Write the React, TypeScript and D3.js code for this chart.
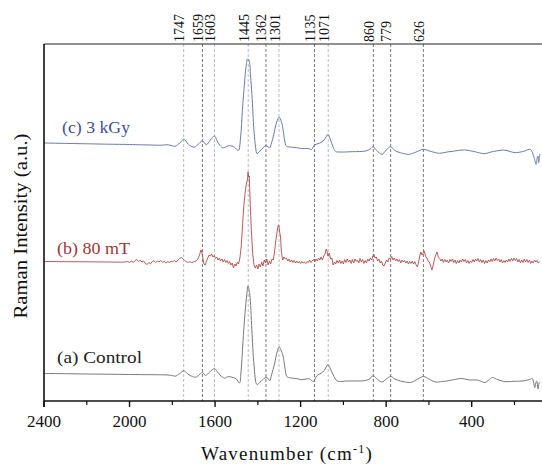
import React from "react";
import * as d3 from "d3";

// Peak positions (cm-1) marked with dashed guide lines
const peakLabels = [1747, 1659, 1603, 1445, 1362, 1301, 1135, 1071, 860, 779, 626];
const darkPeaks = [1659, 1362, 1135, 860, 779, 626];

// Axis ticks
const majorTicks = [2400, 2000, 1600, 1200, 800, 400];
const minorTicks = [2200, 1800, 1400, 1000, 600, 200];

// Series labels
const labelC = "(c) 3 kGy";
const labelB = "(b) 80 mT";
const labelA = "(a) Control";

// (a) Control spectrum: [wavenumber, intensity a.u.]
const seriesA: [number, number][] = [
  [2400, 1.5], [2300, 1.3], [2200, 1.0], [2100, 0.8], [2000, 0.5], [1900, 0.3], [1850, 0.2], [1820, 0],
  [1800, -0.5], [1787, -1.2], [1765, 1.5], [1746, 4.2], [1730, 1.5], [1712, -1], [1690, -2.2], [1675, 0],
  [1659, 2.6], [1645, -0.5], [1625, 3], [1603, 6.4], [1590, 3.5], [1577, 0], [1555, -3.2], [1540, -1.6],
  [1525, -2], [1502, -3.8], [1486, -8], [1478, 5], [1470, 32], [1460, 62], [1452, 80], [1446, 89],
  [1438, 81], [1428, 45], [1418, 10], [1404, -9.6], [1390, -7], [1382, -5.8], [1372, -3.5], [1362, -2.6],
  [1352, -3.5], [1344, -5.8], [1336, 0], [1322, 11], [1310, 23], [1300, 28], [1290, 24], [1282, 19],
  [1274, 8], [1264, -1.6], [1250, -2.8], [1238, -3.2], [1215, -3.8], [1194, -4.8], [1175, -4], [1160, -3.8],
  [1140, -6.4], [1128, -2], [1120, 0], [1105, 1.6], [1090, 4.5], [1072, 10.3], [1060, 6], [1044, -1.6],
  [1030, -5.8], [1010, -6.5], [990, -6], [950, -6], [896, -5.5], [875, -3.5], [861, -0.5], [845, -3.5],
  [819, -7], [800, -4], [778, -1.5], [760, -4], [733, -6], [710, -7], [686, -7.5], [660, -5],
  [626, -1.5], [600, -4], [569, -7], [540, -6.5], [516, -6], [480, -4.5], [445, -3.5], [410, -5],
  [374, -5], [355, -6.5], [338, -7.5], [320, -5], [303, -2.5], [285, -4], [250, -6.5], [200, -6.3],
  [161, -6], [130, -4.5], [117, -3.5], [111, -7], [105, -12.5], [100, -8], [96, -6], [92, -11],
  [89, -14], [85, -8], [80, -7],
];

// (b) 80 mT spectrum
const seriesB: [number, number][] = [
  [2400, 0.5], [2300, 0.3], [2200, 0.2], [2100, 0], [2030, -0.2], [2010, 0.5], [2000, -0.3], [1990, 0.8],
  [1982, -0.5], [1974, 1.5], [1966, 2.5], [1958, 0.5], [1950, 1.8], [1942, 0], [1934, 1], [1926, -1.5],
  [1918, -2.5], [1910, -0.5], [1902, -1.8], [1894, 0.5], [1886, 1.2], [1878, -0.5], [1870, 0.8], [1862, 0.2],
  [1854, 1.5], [1846, -0.3], [1838, 0.6], [1830, -1], [1822, 0.2], [1814, -0.5], [1806, 0.8], [1798, 0.2],
  [1790, 1.5], [1782, 0], [1774, 2], [1766, 3.5], [1758, 4.5], [1750, 3.2], [1742, 1.5], [1734, 0.2],
  [1726, -0.3], [1718, 0.2], [1710, -0.5], [1702, 0], [1694, 0.5], [1686, 1.5], [1678, 4], [1670, 9],
  [1666, 12], [1662, 10], [1658, 5], [1652, -2], [1646, -3], [1640, 1], [1634, 4], [1628, 7],
  [1622, 6], [1616, 8], [1610, 5], [1604, 6.5], [1598, 3.5], [1592, 5], [1586, 2], [1580, 4],
  [1574, 1], [1568, 3], [1562, 0], [1556, 2.5], [1550, -0.5], [1544, 1.5], [1538, -1.5], [1532, 0.5],
  [1526, -3], [1520, -1], [1514, -6], [1508, -2], [1502, -4], [1496, 0], [1490, -2], [1484, 4],
  [1478, 15], [1472, 35], [1466, 55], [1460, 68], [1456, 75], [1452, 80], [1448, 82], [1446, 90],
  [1443, 85], [1440, 86], [1436, 60], [1430, 30], [1424, 8], [1418, -3], [1412, -6], [1406, -3],
  [1400, -7], [1394, -2], [1388, -5], [1382, 0], [1376, -4], [1370, 2], [1364, -1], [1358, 3],
  [1352, -3], [1346, 1], [1340, -2], [1334, 3], [1328, 2], [1322, 10], [1316, 22], [1310, 30],
  [1306, 36], [1302, 37], [1298, 30], [1294, 25], [1290, 10], [1284, 2], [1278, 5], [1272, 3],
  [1266, 4], [1260, 1], [1254, 3], [1248, 0], [1242, 2], [1236, -0.5], [1230, 1.5], [1224, -1],
  [1218, 1], [1212, -1], [1206, 0.5], [1200, -1.5], [1194, 0.5], [1188, -1], [1182, 0], [1176, -1.5],
  [1170, 0.5], [1164, -0.5], [1158, 2], [1152, -0.5], [1146, 1], [1140, 2.5], [1134, 0], [1128, 3],
  [1122, 1], [1116, 4], [1110, 2], [1104, 5], [1098, 2], [1092, 6], [1086, 8], [1080, 13],
  [1076, 10], [1072, 6], [1066, 9], [1060, 3], [1054, 4], [1048, -3], [1042, 0], [1036, -2],
  [1030, 1.5], [1024, -1], [1018, 2], [1012, -1.5], [1006, 1], [1000, -2], [994, 2.5], [988, -0.5],
  [982, 3], [976, 0], [970, 2], [964, -1.5], [958, 2.5], [952, -1], [946, 3], [940, 0.5],
  [934, 2], [928, -1], [922, 3.5], [916, 0], [910, 2.5], [904, -1.5], [898, 1.5], [892, -1],
  [886, 3], [880, 1], [874, 4], [868, 2], [862, 6], [857, 7.5], [852, 4], [846, 5],
  [840, 1], [834, 3], [828, -1], [822, 1], [816, -3], [810, -4], [804, -1], [798, 2],
  [792, 0], [786, 4], [780, 3], [774, 5.5], [768, 2], [762, 4], [756, 1], [750, 3],
  [744, 0.5], [738, 2.5], [732, -1], [726, 2], [720, 0], [714, 1.5], [708, -1], [702, 1],
  [696, -2], [690, 0.5], [684, -1.5], [678, 1], [672, -2], [666, 0.5], [660, -3], [654, -5],
  [648, 0], [643, 6], [638, 10], [632, 7], [627, 9], [622, 11], [616, 6], [610, 4],
  [604, 1], [598, 0], [592, -4], [586, -8], [580, -3], [574, 3], [568, 7], [562, 10],
  [556, 5], [550, 3.5], [544, 1], [538, 3], [532, -0.5], [526, 2.5], [520, 0], [514, 2],
  [508, -1], [502, 2.5], [496, 0.5], [490, 3], [484, -0.5], [478, 2], [472, -1.5], [466, 1.5],
  [460, -1], [454, 2], [448, 0], [442, 3], [436, 0.5], [430, 2.5], [424, -1], [418, 1.5],
  [412, -1.5], [406, 1], [400, -0.5], [394, 2.5], [388, 0], [382, 3], [376, 1], [370, 3.5],
  [364, 0], [358, 2.5], [352, -0.5], [346, 2], [340, -1.5], [334, 1.5], [328, -1], [322, 2],
  [316, 0], [310, 3], [304, 0.5], [298, 3.5], [292, 1], [286, 4], [280, 1.5], [274, 3],
  [268, 0], [262, 2.5], [256, -1], [250, 1.5], [244, -0.5], [238, 2], [232, 0], [226, 3],
  [220, 0.5], [214, 3.5], [208, 1], [202, 4], [196, 1.5], [190, 3.5], [184, 0], [178, 2.5],
  [172, -1], [166, 2], [160, -0.5], [154, 3], [148, 0], [142, 2.5], [136, -0.5], [130, 2],
  [124, -1.5], [118, 1], [112, -1], [106, 2], [100, 0], [94, 1.5], [88, -1], [82, 0.5],
];

// (c) 3 kGy spectrum
const seriesC: [number, number][] = [
  [2400, 3], [2300, 2.6], [2200, 2.2], [2100, 1.8], [2000, 1.5], [1950, 1.2], [1900, 1.0], [1850, 0.8],
  [1824, 1.3], [1800, 0.2], [1787, -0.3], [1765, 3], [1746, 6.8], [1730, 3], [1719, 0.7], [1697, -1.3],
  [1680, 1.5], [1659, 5.2], [1641, 1.3], [1622, 6], [1603, 10], [1590, 5], [1577, 0.5], [1562, -1.9],
  [1545, -0.3], [1532, 0.4], [1509, -1.3], [1491, -4.5], [1481, 8], [1472, 36.7], [1462, 64], [1456, 78],
  [1448, 87], [1442, 86], [1434, 70], [1426, 45], [1419, 18], [1410, -2], [1404, -7.7], [1393, -5.5],
  [1382, -3.5], [1370, -0.5], [1362, 0.4], [1352, -1], [1345, -1.8], [1336, 3], [1326, 11], [1312, 24],
  [1300, 28.7], [1290, 24.5], [1282, 16], [1274, 5], [1266, -0.3], [1250, -1], [1239, -1.3], [1220, -1.6],
  [1194, -2.5], [1164, -2.5], [1149, -3.5], [1135, 1], [1111, 2.9], [1090, 6], [1072, 11.6], [1060, 6],
  [1048, -1], [1036, -5.5], [1016, -6], [959, -5.7], [896, -5], [875, -3], [861, -0.7], [845, -4.5],
  [819, -8.3], [800, -4], [779, -0.7], [760, -4.5], [733, -6.7], [694, -8.3], [660, -6], [626, -3.3],
  [590, -5.5], [551, -7.3], [515, -6], [480, -5], [445, -4], [427, -4], [390, -5.5], [338, -7.7],
  [310, -6], [285, -5], [250, -4], [220, -5.5], [197, -6.7], [152, -5], [126, -3.3], [108, -11.7],
  [99, -18.3], [94, -12], [90, -10], [87, -16.7], [83, -10], [80, -8],
];

const W = 542;
const H = 465;
const plotLeft = 44;
const plotTop = 44;
const plotBottom = 401;

export default function App() {
  const x = d3.scaleLinear().domain([2400, 400]).range([44, 471.7]);
  const y = d3.scaleLinear().domain([0, 357]).range([plotBottom, plotTop]);

  const mkLine = (off: number, curve: any) =>
    d3
      .line<[number, number]>()
      .x((d) => x(d[0]))
      .y((d) => y(d[1] + off))
      .curve(curve);

  const lineA = mkLine(26, d3.curveCatmullRom.alpha(0.5));
  const lineB = mkLine(139, d3.curveLinear);
  const lineC = mkLine(255, d3.curveCatmullRom.alpha(0.5));

  const serif = "'Liberation Serif', 'Times New Roman', serif";

  return (
    <svg
      width={W}
      height={H}
      style={{ position: "fixed", left: 0, top: 0, background: "#fff" }}
      fontFamily={serif}
    >
      <defs>
        <clipPath id="plotclip">
          <rect x={plotLeft} y={plotTop} width={W - plotLeft} height={plotBottom - plotTop} />
        </clipPath>
      </defs>

      {/* dashed guide lines */}
      {peakLabels.map((p) => (
        <line
          key={"g" + p}
          x1={x(p)}
          x2={x(p)}
          y1={plotTop}
          y2={plotBottom}
          stroke={darkPeaks.includes(p) ? "#555" : "#aaa"}
          strokeWidth={0.8}
          strokeDasharray="3,2"
        />
      ))}

      {/* spectra */}
      <g clipPath="url(#plotclip)" fill="none">
        <path d={lineC(seriesC) || ""} stroke="#6a7bb0" strokeWidth={1} />
        <path d={lineB(seriesB) || ""} stroke="#b24a4a" strokeWidth={0.9} />
        <path d={lineA(seriesA) || ""} stroke="#7a7a7a" strokeWidth={1} />
      </g>

      {/* frame */}
      <line x1={plotLeft} x2={W} y1={plotTop} y2={plotTop} stroke="#222" strokeWidth={1.2} />
      <line x1={plotLeft} x2={W} y1={plotBottom} y2={plotBottom} stroke="#111" strokeWidth={1.6} />
      <line x1={plotLeft} x2={plotLeft} y1={plotTop} y2={plotBottom + 6} stroke="#111" strokeWidth={1.6} />

      {/* ticks */}
      {majorTicks.map((t) => (
        <line key={"M" + t} x1={x(t)} x2={x(t)} y1={plotBottom} y2={plotBottom + 6} stroke="#111" strokeWidth={1.4} />
      ))}
      {minorTicks.map((t) => (
        <line key={"m" + t} x1={x(t)} x2={x(t)} y1={plotBottom} y2={plotBottom + 4} stroke="#111" strokeWidth={1.2} />
      ))}
      {majorTicks.map((t) => (
        <text key={"L" + t} x={x(t)} y={427} fontSize={17} textAnchor="middle" fill="#111">
          {t}
        </text>
      ))}

      {/* peak labels */}
      {peakLabels.map((p) => (
        <text
          key={"p" + p}
          transform={`translate(${x(p) + 0.5},42) rotate(-90)`}
          fontSize={14}
          fill="#111"
        >
          {p}
        </text>
      ))}

      {/* series labels */}
      <text x={62} y={133} fontSize={16} fill="#3e4f9a" textLength={68} lengthAdjust="spacingAndGlyphs">
        {labelC}
      </text>
      <text x={57} y={254} fontSize={16} fill="#a03535" textLength={73} lengthAdjust="spacingAndGlyphs">
        {labelB}
      </text>
      <text x={57} y={363} fontSize={16} fill="#222" textLength={85} lengthAdjust="spacingAndGlyphs">
        {labelA}
      </text>

      {/* axis titles */}
      <text x={287} y={460} fontSize={19} textAnchor="middle" fill="#111" letterSpacing={1.2}>
        <tspan>Wavenumber (cm</tspan>
        <tspan fontSize={12} dy={-7}>-1</tspan>
        <tspan dy={7}>)</tspan>
      </text>
      <text
        transform="translate(27,226) rotate(-90)"
        fontSize={19}
        textAnchor="middle"
        fill="#111"
        textLength={185}
        lengthAdjust="spacingAndGlyphs"
      >
        Raman Intensity (a.u.)
      </text>
    </svg>
  );
}
